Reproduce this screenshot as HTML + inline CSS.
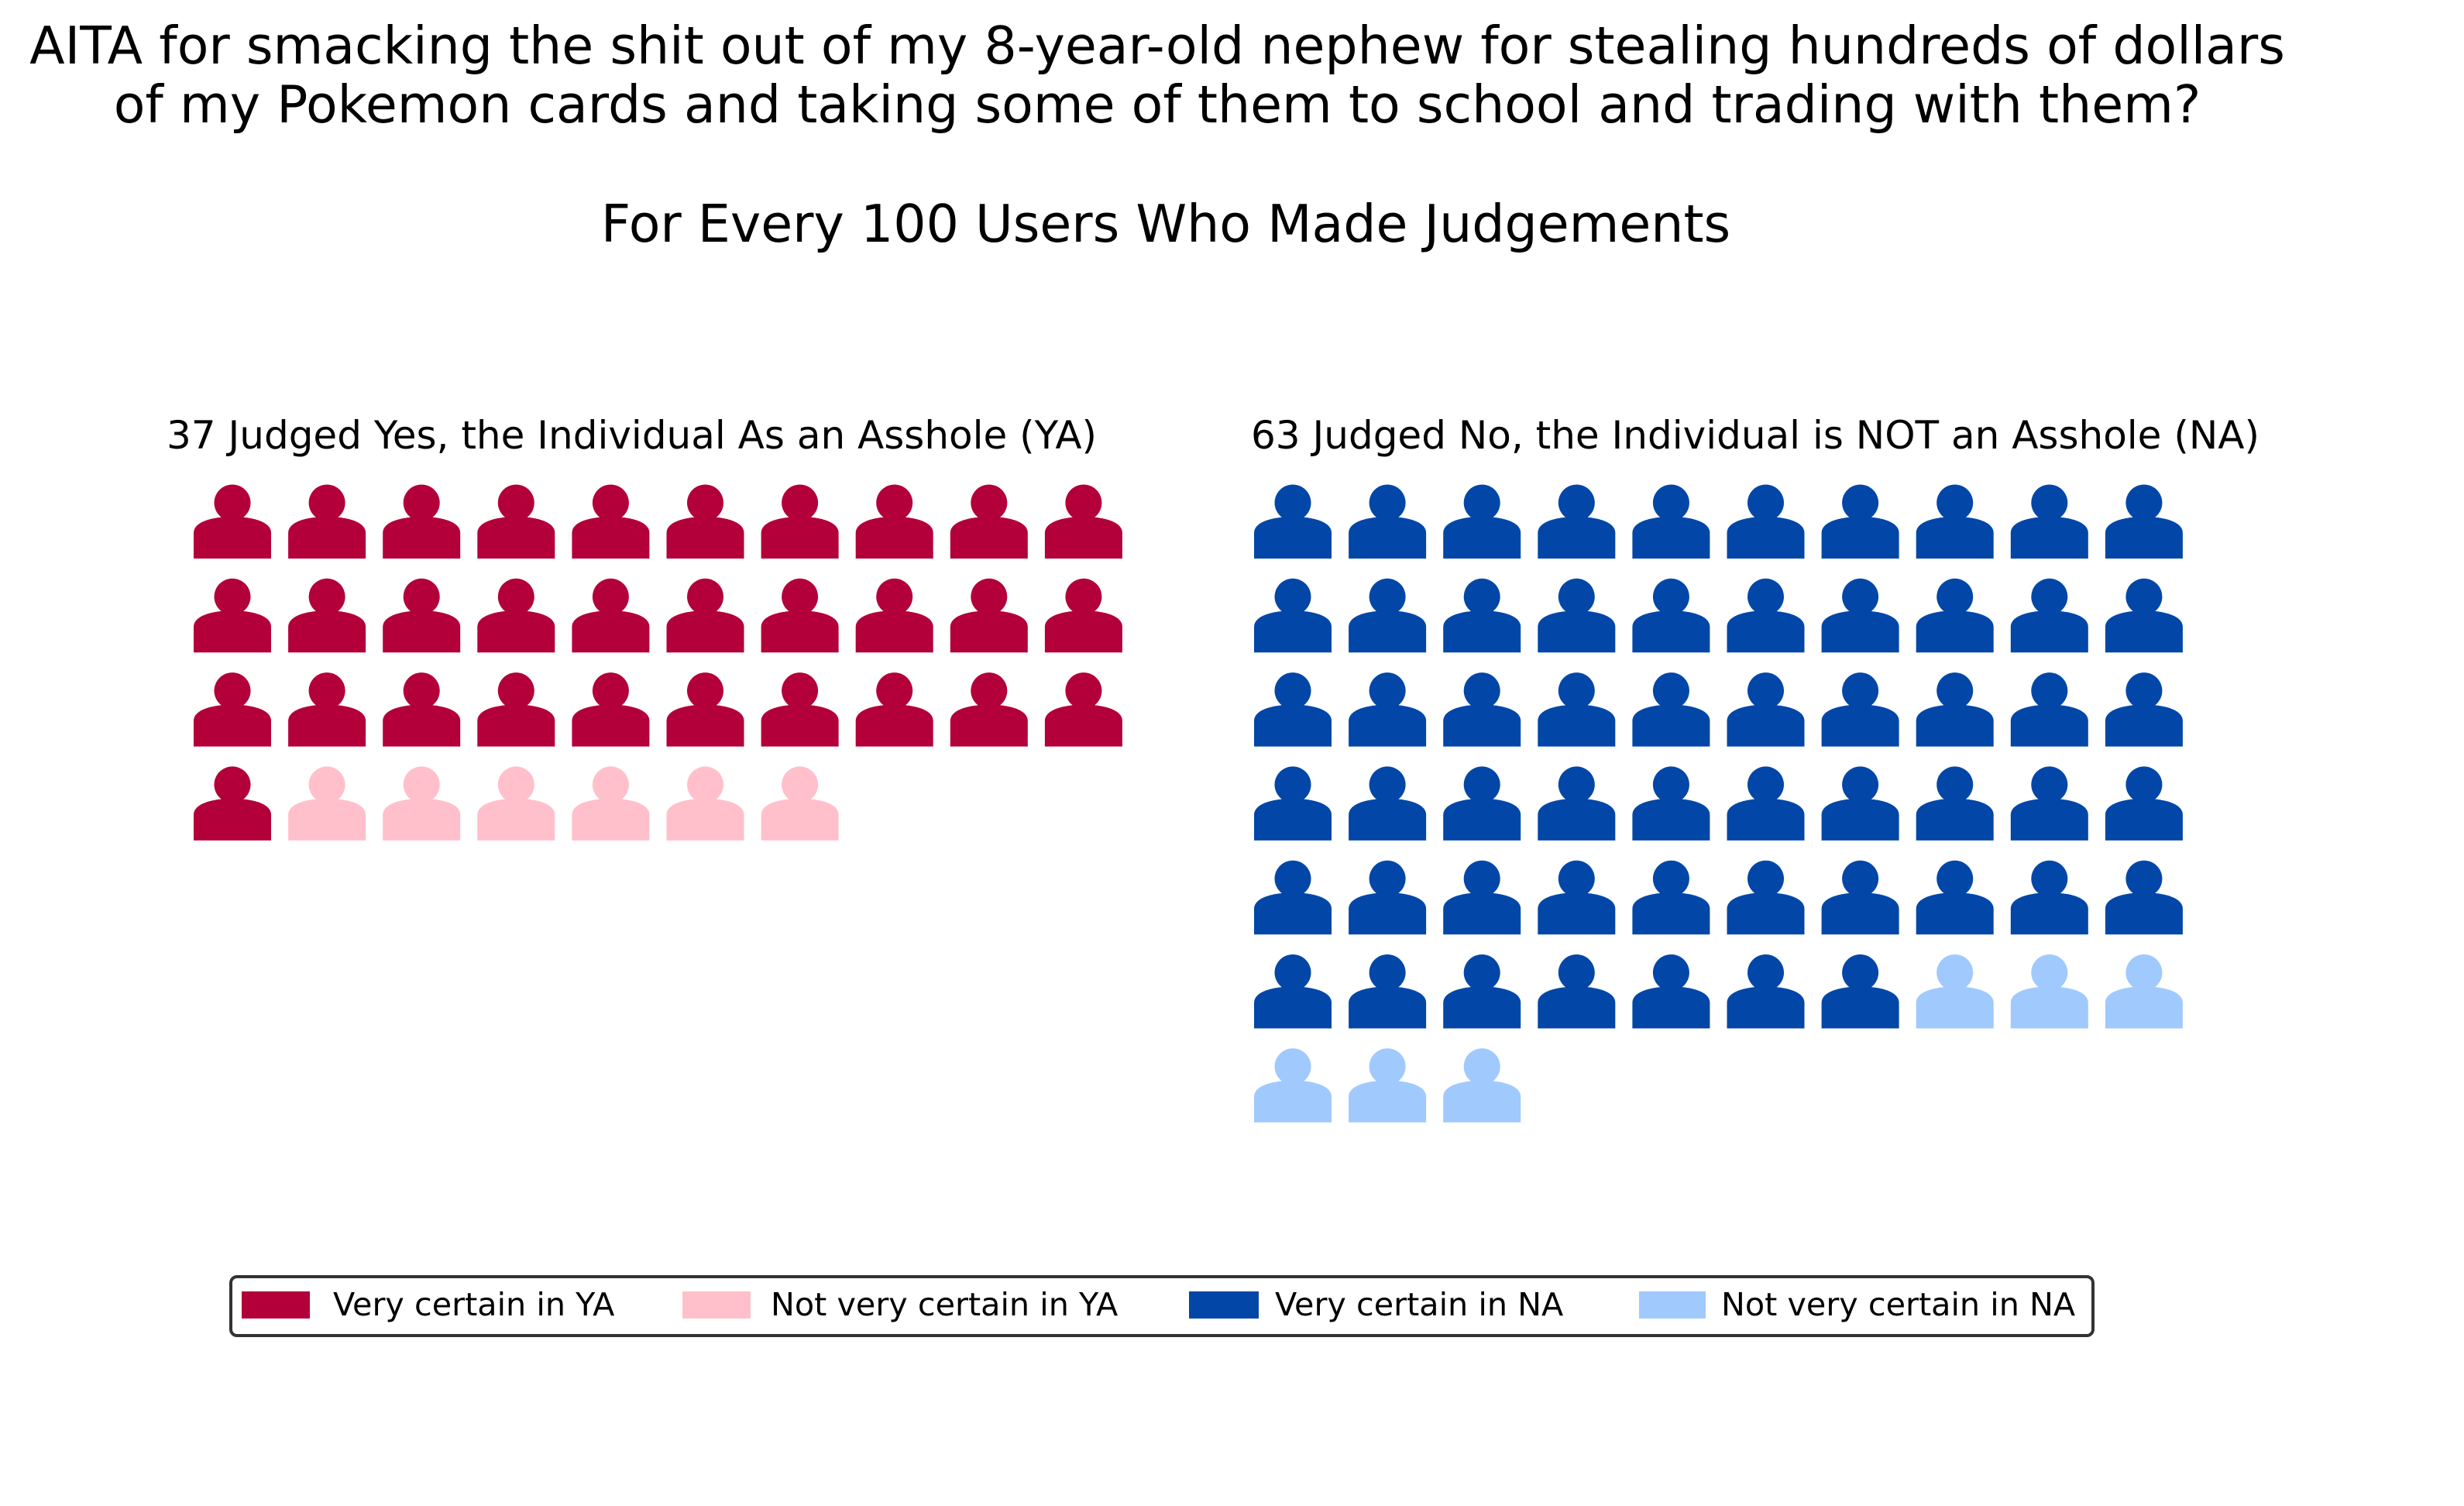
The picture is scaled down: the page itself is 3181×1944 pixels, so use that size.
<!DOCTYPE html>
<html><head><meta charset="utf-8">
<style>
html,body{margin:0;padding:0;background:#fff;}
svg{display:block;}
text{font-family:"DejaVu Sans","Liberation Sans",sans-serif;fill:#000;}
</style></head>
<body>
<svg id="chart" width="3181" height="1944" viewBox="0 0 3181 1944" xmlns="http://www.w3.org/2000/svg">
<text x="1494" y="82" font-size="66.5" text-anchor="middle">AITA for smacking the shit out of my 8-year-old nephew for stealing hundreds of dollars</text>
<text x="1494" y="158" font-size="66.5" text-anchor="middle">of my Pokemon cards and taking some of them to school and trading with them?</text>
<text x="1505" y="312" font-size="66.5" text-anchor="middle">For Every 100 Users Who Made Judgements</text>
<text x="215" y="579" font-size="50">37 Judged Yes, the Individual As an Asshole (YA)</text>
<text x="1615" y="579" font-size="50">63 Judged No, the Individual is NOT an Asshole (NA)</text>
<g id="icons"></g>
<g>
<rect x="298" y="1648" width="2404" height="76" rx="8" fill="#fff" stroke="#333" stroke-width="4"/>
<g><rect x="312" y="1667" width="88" height="35" fill="#B3003A"/><text x="430" y="1698" font-size="41.3">Very certain in YA</text></g>
<g><rect x="881" y="1667" width="88" height="35" fill="#FFC0CB"/><text x="995" y="1698" font-size="41.3">Not very certain in YA</text></g>
<g><rect x="1535" y="1667" width="90" height="35" fill="#0247A7"/><text x="1646" y="1698" font-size="41.3">Very certain in NA</text></g>
<g><rect x="2116" y="1667" width="86" height="35" fill="#A0C9FE"/><text x="2222" y="1698" font-size="41.3">Not very certain in NA</text></g>
</g>
</svg>
<script>
const groups = ["ya", "na"];
const veryCertain = [31, 57];
const notVeryCertain = [6, 6];
const veryColors = ["#B3003A", "#0247A7"];
const notColors = ["#FFC0CB", "#A0C9FE"];

const NS = "http://www.w3.org/2000/svg";
const panelX0 = [300, 1669];
const colPitch = 122.1, rowPitch = 121.3, cols = 10, headY0 = 649;
function xPos(g, i) { return panelX0[g] + (i % cols) * colPitch; }
function yPos(i) { return headY0 + Math.floor(i / cols) * rowPitch; }
const container = document.getElementById("icons");
groups.forEach((name, g) => {
  const total = veryCertain[g] + notVeryCertain[g];
  for (let i = 0; i < total; i++) {
    const cx = xPos(g, i), cy = yPos(i);
    const col = i < veryCertain[g] ? veryColors[g] : notColors[g];
    const ic = document.createElementNS(NS, "g");
    
    
    const c = document.createElementNS(NS, "circle");
    c.setAttribute("cx", cx); c.setAttribute("cy", cy); c.setAttribute("r", 23.5);
    c.setAttribute("fill", col);
    const p = document.createElementNS(NS, "path");
    p.setAttribute("d", `M${cx-50},${cy+72} L${cx-50},${cy+39} C${cx-50},${cy+24} ${cx-25},${cy+18} ${cx},${cy+18} C${cx+25},${cy+18} ${cx+50},${cy+24} ${cx+50},${cy+39} L${cx+50},${cy+72} Z`);
    p.setAttribute("fill", col);
    ic.appendChild(c); ic.appendChild(p);
    container.appendChild(ic);
  }
});
</script>
</body></html>
